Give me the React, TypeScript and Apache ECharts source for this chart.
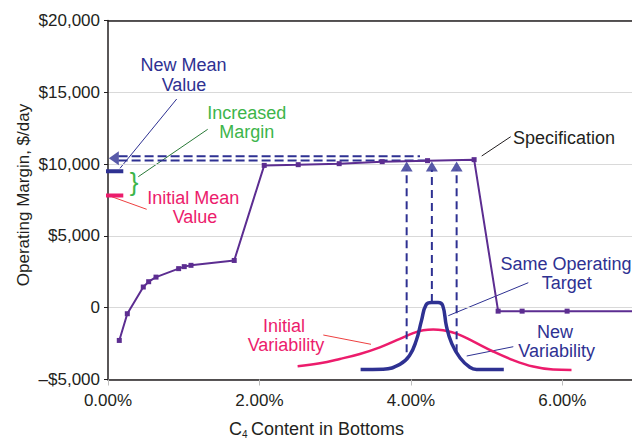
import React, { useEffect, useRef } from "react";
import * as echarts from "echarts";

const FONT = '"Liberation Sans", Arial, Helvetica, sans-serif';
const PURPLE = "#5c2d91";
const BLUE = "#2e3192";
const PINK = "#ec1c6c";
const GREEN = "#3db54a";
const INK = "#231f20";

// X ticks (C4 %) and Y ticks ($/day)
const xTickValues = [0, 2, 4, 6];
const xTickLabels = ["0.00%", "2.00%", "4.00%", "6.00%"];
const xMax = 6.92;
const yTickValues = [-5000, 0, 5000, 10000, 15000, 20000];
const yTickLabels = ["\u2013$5,000", "0", "$5,000", "$10,000", "$15,000", "$20,000"];

// Operating margin curve
const marginX = [0.149, 0.255, 0.466, 0.537, 0.634, 0.933, 1.007, 1.096, 1.667, 2.063, 2.512, 3.053, 3.621, 4.22, 4.835, 5.152, 5.469, 6.063, 7.0];
const marginY = [-2280, -420, 1440, 1810, 2130, 2720, 2860, 2950, 3290, 9910, 9960, 10030, 10170, 10240, 10310, -240, -240, -240, -240];

// Initial variability distribution (drawn on the same axes)
const initVarX = [2.504, 2.798, 3.062, 3.326, 3.59, 3.854, 4.03, 4.162, 4.294, 4.426, 4.603, 4.822, 5.086, 5.35, 5.614, 5.878, 6.121];
const initVarY = [-4070, -3870, -3570, -3220, -2760, -2170, -1770, -1570, -1510, -1570, -1800, -2350, -3050, -3650, -4100, -4310, -4330];

// New variability distribution
const newVarX = [3.336, 3.634, 3.854, 3.98, 4.07, 4.14, 4.2, 4.273, 4.36, 4.42, 4.47, 4.54, 4.65, 4.778, 4.867, 5.227];
const newVarY = [-4300, -4280, -3950, -3350, -2300, -900, 200, 360, 360, 150, -1300, -2500, -3500, -4150, -4300, -4300];

// Dashed projections
const hDashY = [10550, 10250];
const hDashStart = [0.14, 0.14];
const hDashEnd = [4.12, 4.22];
const vArrowX = [3.944, 4.277, 4.604];
const vArrowBottom = [-3100, 390, -3100];
const vArrowTop = 9600;
const vArrowHeadY = 9840;
const leftArrowHead = [0.077, 10400];

// Mean value markers
const meanMarkX = [-0.405, 0.202];
const newMeanY = 9510;
const initialMeanY = 7820;

function fmtX(v: number) {
  const i = xTickValues.indexOf(v);
  return i >= 0 ? xTickLabels[i] : "";
}
function fmtY(v: number) {
  const i = yTickValues.indexOf(v);
  return i >= 0 ? yTickLabels[i] : "";
}

const zip = (xs: number[], ys: number[]) => xs.map((x, i) => [x, ys[i]]);

export default function App() {
  const ref = useRef<HTMLDivElement>(null);
  useEffect(() => {
    if (!ref.current) return;
    const chart = echarts.init(ref.current, undefined, { renderer: "svg" });

    const txt = (text: string, x: number, y: number, fill: string, size = 18, align = "center", extra: any = {}) => ({
      type: "text",
      x,
      y,
      silent: true,
      ...extra,
      style: {
        text,
        fill,
        font: `${size}px ${FONT}`,
        align,
        verticalAlign: "middle",
        textAlign: align,
        textVerticalAlign: "middle",
      },
    });
    const ln = (x1: number, y1: number, x2: number, y2: number, stroke: string) => ({
      type: "line",
      silent: true,
      shape: { x1, y1, x2, y2 },
      style: { stroke, lineWidth: 1 },
    });

    const series: any[] = [];
    series.push({
      type: "line",
      data: zip(initVarX, initVarY),
      smooth: 0.4,
      symbol: "none",
      lineStyle: { color: PINK, width: 2.5 },
      silent: true,
      z: 2,
    });
    series.push({
      type: "line",
      data: zip(newVarX, newVarY),
      smooth: 0.45,
      symbol: "none",
      lineStyle: { color: BLUE, width: 3.5 },
      silent: true,
      z: 3,
    });
    hDashY.forEach((y, i) => {
      series.push({
        type: "line",
        data: [[hDashStart[i], y], [hDashEnd[i], y]],
        symbol: "none",
        lineStyle: { color: BLUE, width: 2, type: [9, 4] },
        silent: true,
        z: 3,
      });
    });
    vArrowX.forEach((x, i) => {
      series.push({
        type: "line",
        data: [[x, vArrowBottom[i]], [x, vArrowTop]],
        symbol: "none",
        lineStyle: { color: BLUE, width: 2, type: [8, 5] },
        silent: true,
        z: 3,
      });
    });
    series.push({
      type: "scatter",
      data: vArrowX.map((x) => [x, vArrowHeadY]),
      symbol: "triangle",
      symbolSize: [12, 10],
      itemStyle: { color: BLUE },
      silent: true,
      z: 4,
    });
    series.push({
      type: "scatter",
      data: [leftArrowHead],
      symbol: "triangle",
      symbolSize: [14, 10],
      symbolRotate: 90,
      itemStyle: { color: BLUE },
      silent: true,
      z: 4,
    });
    series.push({
      type: "line",
      data: zip(marginX, marginY),
      symbol: "rect",
      symbolSize: 5,
      showSymbol: true,
      itemStyle: { color: PURPLE },
      lineStyle: { color: PURPLE, width: 2 },
      silent: true,
      z: 5,
    });
    series.push({
      type: "line",
      data: meanMarkX.map((x) => [x, newMeanY]),
      symbol: "none",
      clip: false,
      lineStyle: { color: BLUE, width: 4 },
      silent: true,
      z: 6,
    });
    series.push({
      type: "line",
      data: meanMarkX.map((x) => [x, initialMeanY]),
      symbol: "none",
      clip: false,
      lineStyle: { color: PINK, width: 4 },
      silent: true,
      z: 6,
    });

    const option: any = {
      animation: false,
      textStyle: { fontFamily: FONT },
      grid: { left: 108, right: 0, top: 20.5, bottom: 60.5, containLabel: false },
      xAxis: [
        {
          type: "value",
          min: 0,
          max: xMax,
          interval: 2,
          axisLine: { show: true, onZero: false, lineStyle: { color: INK, width: 1.5 } },
          axisTick: { show: true, length: 6, lineStyle: { color: "#bdbdbd", width: 1 } },
          axisLabel: { color: INK, fontSize: 17, fontFamily: FONT, margin: 12, formatter: fmtX, showMaxLabel: false },
          splitLine: { show: false },
        },
        {
          type: "value",
          position: "top",
          min: 0,
          max: xMax,
          axisLine: { show: true, onZero: false, lineStyle: { color: INK, width: 1.5 } },
          axisTick: { show: false },
          axisLabel: { show: false },
          splitLine: { show: false },
        },
      ],
      yAxis: {
        type: "value",
        min: -5000,
        max: 20000,
        interval: 5000,
        axisLine: { show: true, onZero: false, lineStyle: { color: INK, width: 1.5 } },
        axisTick: { show: true, length: 4, lineStyle: { color: INK, width: 1 } },
        axisLabel: { color: INK, fontSize: 17, fontFamily: FONT, margin: 8, formatter: fmtY },
        splitLine: { show: true, lineStyle: { color: "#d9d9d9", width: 1 } },
      },
      series,
      graphic: [
        // axis titles
        txt("Operating Margin, $/day", 23.5, 195, INK, 17, "center", { rotation: Math.PI / 2 }),
        txt("C", 229, 429, INK, 18, "left"),
        txt("4", 242, 434, INK, 10, "left"),
        txt("Content in Bottoms", 251, 429, INK, 18, "left"),
        // New Mean Value
        txt("New Mean", 183.5, 65, BLUE),
        txt("Value", 184, 85, BLUE),
        ln(176.7, 99, 120, 168.3, BLUE),
        // Increased Margin
        txt("Increased", 246.7, 112.5, GREEN),
        txt("Margin", 246.7, 132, GREEN),
        ln(207.7, 129.3, 138.3, 176.7, "#2a7a38"),
        txt("}", 134, 182, GREEN, 26),
        // Initial Mean Value
        txt("Initial Mean", 193.3, 198, PINK),
        txt("Value", 195, 216.5, PINK),
        ln(111.7, 196.7, 146.7, 209.3, "#ee4040"),
        // Specification
        txt("Specification", 564, 137.5, INK),
        ln(481.7, 156, 510.7, 136.7, INK),
        // Same Operating Target
        txt("Same Operating", 566, 263.5, BLUE),
        txt("Target", 566.7, 283, BLUE),
        ln(528.3, 282.7, 448.3, 315.7, BLUE),
        // New Variability
        txt("New", 555, 331.7, BLUE),
        txt("Variability", 556.7, 351, BLUE),
        ln(513.3, 346.7, 466.7, 356, BLUE),
        // Initial Variability
        txt("Initial", 284, 325.5, PINK),
        txt("Variability", 286, 344.5, PINK),
        ln(323.3, 335, 371, 344.3, "#ee4040"),
      ],
    };
    chart.setOption(option);
    return () => chart.dispose();
  }, []);

  return (
    <div style={{ position: "fixed", left: 0, top: 0, width: 632, height: 440, overflow: "hidden", background: "#fff" }}>
      <div ref={ref} style={{ width: 632, height: 440 }} />
    </div>
  );
}
